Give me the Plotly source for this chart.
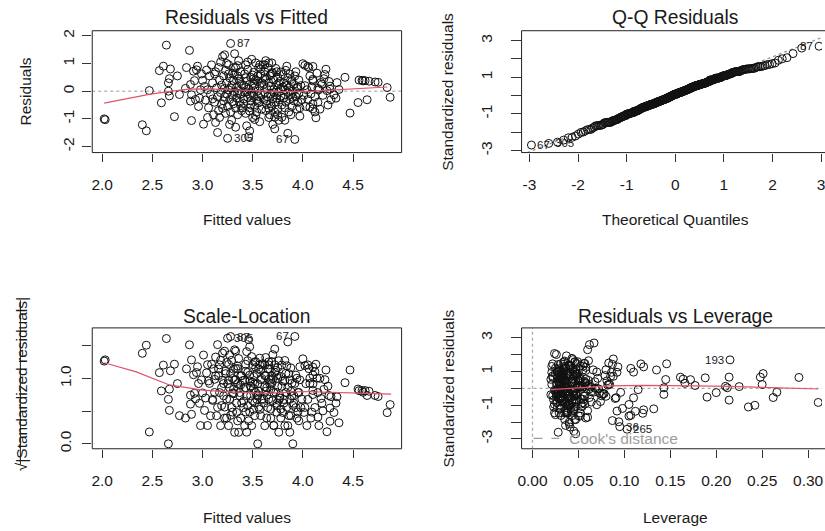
import numpy as np
from statistics import NormalDist
import plotly.graph_objects as go

W, H = 825, 531
FONT = "Liberation Sans, Arial, Helvetica, sans-serif"
INK = "#1a1a1a"
RED = "#DF536B"
GRAY = "#9E9E9E"

# ---------------- data ----------------
fitted = [
    2.02, 2.03, 2.40, 2.44, 2.47,
    2.57, 2.61, 2.64, 2.59, 2.66, 2.67, 2.66, 2.67, 2.72, 2.77, 2.68, 2.75,
    2.84, 2.87, 2.89, 2.88, 2.89, 2.88, 2.91, 2.94, 2.92, 2.95, 2.97, 2.98, 2.96, 2.99, 2.93, 2.83,
    3.01, 3.13, 3.15, 3.20, 3.02, 3.00, 3.04, 3.03, 3.05, 3.06, 3.07, 3.08, 3.09, 3.10, 3.11, 3.12,
    3.12, 3.14, 3.15, 3.16, 3.16, 3.17, 3.18, 3.18, 3.19, 3.19, 3.05, 3.13, 3.10, 3.17,
    3.22, 3.28, 3.25, 3.32, 3.21, 3.21, 3.22, 3.23, 3.23, 3.24, 3.24, 3.25, 3.26, 3.26, 3.27, 3.27,
    3.28, 3.29, 3.29, 3.30, 3.30, 3.31, 3.31, 3.32, 3.33, 3.33, 3.34, 3.34, 3.35, 3.35, 3.36, 3.36,
    3.37, 3.37, 3.38, 3.38, 3.39, 3.39, 3.28, 3.30, 3.36, 3.22, 3.24, 3.27, 3.33, 3.35, 3.38, 3.32,
    3.46, 3.44, 3.47, 3.41, 3.41, 3.42, 3.42, 3.43, 3.43, 3.44, 3.45, 3.45, 3.46, 3.47, 3.48, 3.48,
    3.49, 3.49, 3.50, 3.50, 3.51, 3.51, 3.52, 3.52, 3.53, 3.53, 3.54, 3.54, 3.55, 3.55, 3.56, 3.56,
    3.57, 3.57, 3.58, 3.58, 3.59, 3.59, 3.43, 3.47, 3.51, 3.55, 3.58, 3.45, 3.53, 3.40, 3.57, 3.48,
    3.52, 3.44, 3.56, 3.50,
    3.66, 3.69, 3.72, 3.72, 3.79, 3.78, 3.61, 3.61, 3.62, 3.62, 3.63, 3.63, 3.64, 3.64, 3.65, 3.65,
    3.66, 3.67, 3.67, 3.68, 3.68, 3.69, 3.70, 3.70, 3.71, 3.71, 3.73, 3.73, 3.74, 3.74, 3.75, 3.75,
    3.76, 3.76, 3.77, 3.77, 3.78, 3.79, 3.60, 3.64, 3.68, 3.72, 3.76, 3.63, 3.70, 3.66, 3.74, 3.78,
    3.62, 3.71, 3.69, 3.75,
    3.92, 3.85, 3.80, 3.81, 3.81, 3.82, 3.82, 3.83, 3.83, 3.84, 3.85, 3.85, 3.86, 3.86, 3.87, 3.87,
    3.88, 3.89, 3.89, 3.90, 3.91, 3.91, 3.92, 3.93, 3.94, 3.94, 3.95, 3.96, 3.96, 3.97, 3.98, 3.99,
    3.84, 3.88, 3.93, 3.97, 3.82, 3.90, 3.95, 3.87,
    4.00, 4.10, 4.05, 4.02, 4.06, 4.10, 4.10, 4.10, 4.10, 4.13, 4.18, 4.21, 4.22, 4.23, 4.27, 4.27,
    4.28, 4.01, 4.02, 4.03, 4.04, 4.05, 4.07, 4.08, 4.09, 4.12, 4.14, 4.15, 4.16, 4.17, 4.19, 4.20,
    4.24, 4.25, 4.12, 4.07, 4.15, 4.26,
    4.34, 4.42, 4.47, 4.55, 4.36, 4.31, 4.33,
    4.56, 4.59, 4.62, 4.66, 4.72, 4.75, 4.84, 4.87, 4.64, 4.60,
    3.26, 3.41, 3.55, 3.68, 3.80, 3.35, 3.62, 3.47, 3.74, 3.20, 3.88, 3.52, 3.31, 3.66, 3.43,
]

residuals = [
    -1.00, -1.03, -1.21, -1.43, 0.02,
    0.74, 0.90, 1.66, -0.42, 0.30, 0.45, 0.00, -0.17, -0.92, -0.12, 0.80, 0.55,
    0.85, 1.47, -1.06, -0.36, -0.13, 0.24, 0.72, 0.77, 0.38, 0.90, -0.25, 0.05, -0.55, 0.62, -0.30, 0.10,
    -1.19, -1.13, -1.49, 1.25, 0.17, 0.39, 0.76, -0.32, 0.05, -0.60, 0.55, -0.12, 0.95, 0.30, -0.85, -0.40,
    0.62, 0.12, -0.20, 0.85, -0.70, 0.40, -0.05, 1.05, -0.48, 0.22, -0.95, 0.70, -0.28, -0.95,
    1.31, 1.72, -1.70, 1.35, 0.55, -0.35, 0.10, -0.80, 0.75, -0.10, 0.30, -0.55, 0.95, 0.05, -0.30, 0.48,
    -0.75, 0.20, -1.05, 0.65, -0.15, 0.38, -0.45, -0.02, 0.85, -0.62, 0.15, -0.25, 0.55, -0.85, 0.02, 1.10,
    -0.40, 0.35, -0.10, 0.70, -0.70, 0.25, 0.12, -0.38, 0.45, -0.20, 1.00, -1.20, -1.30, 0.92, -0.52, 0.60,
    -1.64, -1.25, -1.43, 0.20, -0.45, 0.62, -0.05, 0.95, -0.80, 0.35, -0.22, 0.78, 0.08, -0.60, 0.50, -0.35,
    1.15, -0.05, 0.28, -0.95, 0.68, -0.18, 0.12, -0.55, 1.02, 0.40, -0.30, -0.75, 0.55, 0.00, -0.42, 0.85,
    0.18, -1.10, -0.12, 0.62, -0.65, 0.30, 0.15, -0.15, 0.45, -0.35, 0.80, 1.05, -0.88, -0.60, 0.95, -0.50,
    0.25, -0.02, -0.20, 0.58,
    1.02, 1.02, -1.36, -0.94, -0.94, 0.69, 0.25, -0.30, 0.70, -0.05, -0.70, 0.42, 0.10, -0.48, 0.85, -0.20,
    0.30, -0.85, 0.55, -0.10, 0.18, -0.55, 0.65, -0.28, 0.05, 0.40, -0.40, 0.82, -0.15, 0.22, -0.65, 0.50,
    -0.02, -1.05, 0.35, -0.32, 0.10, -0.50, 0.95, -0.35, 0.60, -0.75, 0.28, 1.10, -1.20, -0.62, 0.70, -0.18,
    0.48, -0.05, 0.67, -0.85,
    -1.74, -1.52, 0.60, -0.25, 0.30, -0.60, 0.05, 0.75, -0.40, 0.20, -0.05, 0.48, -0.75, 0.12, -0.30, 0.62,
    -0.12, 0.35, -0.55, 0.00, -0.35, 0.25, 0.55, -0.20, -0.65, 0.10, -0.40, 0.40, -0.08, -0.90, 0.20, -0.30,
    0.90, -0.85, 0.70, -0.60, -1.05, -0.22, 0.15, 0.02,
    0.99, 0.89, 0.89, 0.93, 0.85, 0.37, 0.43, -0.64, -0.46, -0.96, 0.31, 0.45, 0.60, 0.79, 0.07, 0.18,
    -0.31, -0.15, 0.20, -0.55, 0.05, -0.30, 0.55, -0.10, 0.15, -0.20, 0.65, -0.40, 0.05, -0.65, 0.25, -0.15,
    0.02, -0.50, -0.75, -0.58, 0.10, 0.35,
    0.31, 0.50, -0.79, -0.41, 0.06, -0.13, -0.25,
    0.40, 0.39, 0.38, 0.36, 0.33, 0.32, 0.13, -0.22, -0.31, 0.37,
    0.62, -0.28, 0.35, -0.45, 0.15, -0.08, 0.95, -0.72, -0.25, -0.62, 0.42, -1.02, 0.85, -0.95, 0.48,
]

leverage = [
    0.107, 0.105, 0.087, 0.095, 0.143,
    0.107, 0.118, 0.062, 0.055, 0.035, 0.048, 0.068, 0.033, 0.120, 0.045, 0.058, 0.038,
    0.042, 0.060, 0.052, 0.031, 0.064, 0.029, 0.047, 0.036, 0.071, 0.040, 0.026, 0.054, 0.043, 0.034, 0.080, 0.050,
    0.046, 0.058, 0.041, 0.037, 0.030, 0.052, 0.044, 0.028, 0.063, 0.036, 0.049, 0.025, 0.057, 0.033, 0.045, 0.039,
    0.070, 0.031, 0.047, 0.035, 0.054, 0.027, 0.042, 0.061, 0.032, 0.050, 0.038, 0.044, 0.075, 0.029,
    0.026, 0.067, 0.028, 0.024, 0.040, 0.033, 0.052, 0.045, 0.029, 0.038, 0.061, 0.027, 0.048, 0.035, 0.056, 0.031,
    0.042, 0.037, 0.050, 0.028, 0.066, 0.034, 0.043, 0.030, 0.055, 0.039, 0.026, 0.047, 0.033, 0.060, 0.036, 0.044,
    0.029, 0.052, 0.038, 0.031, 0.045, 0.057, 0.082, 0.090, 0.085, 0.077, 0.046, 0.035, 0.040, 0.028, 0.064, 0.092,
    0.045, 0.094, 0.036, 0.033, 0.048, 0.027, 0.041, 0.056, 0.030, 0.044, 0.036, 0.025, 0.052, 0.039, 0.032, 0.062,
    0.043, 0.028, 0.047, 0.035, 0.058, 0.031, 0.040, 0.026, 0.049, 0.034, 0.045, 0.037, 0.029, 0.054, 0.033, 0.041,
    0.027, 0.060, 0.038, 0.046, 0.030, 0.050, 0.084, 0.096, 0.088, 0.110, 0.093, 0.035, 0.042, 0.057, 0.031, 0.074,
    0.068, 0.072, 0.078, 0.025,
    0.034, 0.046, 0.040, 0.052, 0.037, 0.029, 0.043, 0.031, 0.055, 0.026, 0.047, 0.036, 0.060, 0.033, 0.041, 0.028,
    0.050, 0.038, 0.044, 0.030, 0.057, 0.035, 0.027, 0.048, 0.039, 0.032, 0.053, 0.036, 0.045, 0.029, 0.041, 0.034,
    0.062, 0.031, 0.043, 0.026, 0.049, 0.038, 0.083, 0.091, 0.086, 0.098, 0.081, 0.088, 0.047, 0.070, 0.066, 0.073,
    0.079, 0.115, 0.135, 0.112,
    0.047, 0.103, 0.032, 0.045, 0.028, 0.053, 0.037, 0.041, 0.030, 0.058, 0.034, 0.046, 0.027, 0.050, 0.039, 0.033,
    0.044, 0.029, 0.055, 0.036, 0.042, 0.031, 0.048, 0.026, 0.040, 0.035, 0.052, 0.030, 0.045, 0.038, 0.029, 0.057,
    0.087, 0.092, 0.080, 0.105, 0.043, 0.076, 0.083, 0.069,
    0.215, 0.040, 0.146, 0.034, 0.052, 0.030, 0.045, 0.235, 0.311, 0.038, 0.050, 0.033, 0.110, 0.121, 0.210, 0.166,
    0.190, 0.028, 0.043, 0.036, 0.055, 0.031, 0.047, 0.039, 0.062, 0.035, 0.044, 0.029, 0.052, 0.041, 0.037, 0.200,
    0.212, 0.048, 0.132, 0.242, 0.177, 0.058,
    0.172, 0.251, 0.121, 0.214, 0.225, 0.266, 0.048,
    0.161, 0.214, 0.248, 0.290, 0.164, 0.145, 0.250, 0.143, 0.262, 0.188,
    0.021, 0.022, 0.020, 0.023, 0.021, 0.024, 0.022, 0.023, 0.020, 0.024, 0.022, 0.025, 0.021, 0.024, 0.022,
]
n_coef = 10

# labelled observations (row position -> label)
resid_label_text = ["87", "305", "67"]
resid_label_rows = [64, 65, 215]
cook_label_text = ["193", "36", "265"]
cook_label_rows = [255, 3, 216]

# smoother curves
smooth_fit_x = [2.02, 2.25, 2.48, 2.70, 2.86, 3.05, 3.48, 3.80, 4.10, 4.40, 4.60, 4.84]
smooth_fit_y = [-0.43, -0.27, -0.11, 0.00, 0.07, 0.08, 0.03, -0.02, 0.00, 0.07, 0.11, 0.15]
smooth_sl_x = [2.02, 2.34, 2.67, 3.00, 3.33, 3.66, 3.99, 4.32, 4.65, 4.88]
smooth_sl_y = [1.24, 1.10, 0.90, 0.82, 0.79, 0.77, 0.80, 0.79, 0.77, 0.76]
smooth_lev_x = [0.020, 0.049, 0.060, 0.085, 0.120, 0.150, 0.176, 0.214, 0.250, 0.286, 0.311]
smooth_lev_y = [-0.08, 0.00, 0.06, 0.14, 0.17, 0.18, 0.15, 0.12, 0.06, 0.01, -0.04]

# ticks
fit_ticks = [2.0, 2.5, 3.0, 3.5, 4.0, 4.5]
fit_tick_text = ["2.0", "2.5", "3.0", "3.5", "4.0", "4.5"]
res_ticks = [-2, -1, 0, 1, 2]
res_tick_text = ["-2", "-1", "0", "1", "2"]
std_ticks = [-3, -2, -1, 0, 1, 2, 3]
std_tick_text = ["-3", "", "-1", "", "1", "", "3"]
qq_ticks = [-3, -2, -1, 0, 1, 2, 3]
qq_tick_text = ["-3", "-2", "-1", "0", "1", "2", "3"]
sl_ticks = [0.0, 0.5, 1.0, 1.5]
sl_tick_text = ["0.0", "", "1.0", ""]
lev_ticks = [0.0, 0.05, 0.10, 0.15, 0.20, 0.25, 0.30]
lev_tick_text = ["0.00", "0.05", "0.10", "0.15", "0.20", "0.25", "0.30"]

# ---------------- derived quantities (as plot.lm does) ----------------
f = np.array(fitted)
r = np.array(residuals)
h = np.array(leverage)
if not (len(f) == len(r) == len(h)):
    raise ValueError(f"lengths differ: {len(f)} {len(r)} {len(h)}")
n = len(r)
sigma = np.sqrt(np.sum(r ** 2) / (n - n_coef))
rs = r / (sigma * np.sqrt(1 - h))
sqrt_abs_rs = np.sqrt(np.abs(rs))
nd = NormalDist()
order = np.argsort(rs)
theo_sorted = np.array([nd.inv_cdf((i + 0.5) / n) for i in range(n)])
theo = np.empty(n)
theo[order] = theo_sorted
q1, q3 = np.quantile(rs, [0.25, 0.75])
z1, z3 = nd.inv_cdf(0.25), nd.inv_cdf(0.75)
qq_slope = (q3 - q1) / (z3 - z1)
qq_int = q1 - qq_slope * z1

# ---------------- layout geometry (pixels) ----------------
def px(x):
    return x / W

def py(y):
    return 1 - y / H

boxes = {
    1: (89, 401, 29, 152),
    2: (522, 825, 29, 152),
    3: (89, 401, 329, 451),
    4: (522, 825, 329, 451),
}
ranges = {
    1: ([1.901, 4.984], [-2.214, 2.179]),
    2: ([-3.163, 3.02], [-3.108, 3.54]),
    3: ([1.901, 4.984], [-0.076, 1.773]),
    4: ([-0.01187, 0.3151], [-3.588, 3.588]),
}

fig = go.Figure()
marker = dict(symbol="circle-open", size=8, color="#111111", line=dict(width=1))

def ax(k):
    return "" if k == 1 else str(k)

def add_points(k, x, y):
    fig.add_trace(go.Scatter(x=x, y=y, mode="markers", marker=marker,
                             xaxis=f"x{ax(k)}", yaxis=f"y{ax(k)}",
                             hoverinfo="skip", showlegend=False))

def add_line(k, x, y, color, dash="solid", width=1.2):
    fig.add_trace(go.Scatter(x=x, y=y, mode="lines", line=dict(color=color, dash=dash, width=width),
                             xaxis=f"x{ax(k)}", yaxis=f"y{ax(k)}",
                             hoverinfo="skip", showlegend=False))

# Panel 1: Residuals vs Fitted
add_line(1, ranges[1][0], [0, 0], "#BBBBBB", "dot", 1.5)
add_points(1, f, r)
add_line(1, smooth_fit_x, smooth_fit_y, RED)

# Panel 2: Q-Q
qx = np.array(ranges[2][0])
add_line(2, qx, qq_int + qq_slope * qx, "#999999", "dot", 1.3)
add_points(2, theo_sorted, rs[order])

# Panel 3: Scale-Location
add_points(3, f, sqrt_abs_rs)
add_line(3, smooth_sl_x, smooth_sl_y, RED)

# Panel 4: Residuals vs Leverage
add_line(4, ranges[4][0], [0, 0], "#AAAAAA", "dot", 1.3)
add_line(4, [0, 0], ranges[4][1], "#AAAAAA", "dot", 1.3)
add_points(4, h, rs)
add_line(4, smooth_lev_x, smooth_lev_y, RED)

tickfont = dict(family=FONT, size=15.5, color=INK)

def xaxis(k, vals, text):
    x0, x1, y0, y1 = boxes[k]
    return dict(domain=[px(x0), min(1.0, px(x1))], range=ranges[k][0],
                anchor=f"y{ax(k)}", tickmode="array", tickvals=vals, ticktext=text,
                ticks="outside", ticklen=8, tickwidth=1, tickcolor="#333333",
                showgrid=False, zeroline=False, showline=False, tickfont=tickfont,
                ticklabelstandoff=10, ticklabeloverflow="allow", fixedrange=True)

def yaxis(k, vals, text, ticklen, standoff):
    x0, x1, y0, y1 = boxes[k]
    return dict(domain=[py(y1), py(y0)], range=ranges[k][1],
                anchor=f"x{ax(k)}", tickmode="array", tickvals=vals, ticktext=text,
                ticks="outside", ticklen=ticklen, tickwidth=1, tickcolor="#333333", tickangle=-90,
                showgrid=False, zeroline=False, showline=False, tickfont=tickfont,
                ticklabelstandoff=standoff, ticklabeloverflow="allow", fixedrange=True)

shapes = []
for k, (x0, x1, y0, y1) in boxes.items():
    shapes.append(dict(type="rect", xref="paper", yref="paper",
                       x0=px(x0), x1=px(x1 + 20 if x1 >= W else x1), y0=py(y1), y1=py(y0),
                       line=dict(color="#222222", width=1), layer="above"))
# Cook's distance legend key and radical vinculum on the scale-location label
shapes.append(dict(type="line", xref="paper", yref="paper", x0=px(534), x1=px(560),
                   y0=py(440.5), y1=py(440.5), line=dict(color=GRAY, width=1.3, dash="dash")))
shapes.append(dict(type="line", xref="paper", yref="paper", x0=px(16.5), x1=px(16.5),
                   y0=py(301), y1=py(467), line=dict(color=INK, width=1)))

ann = []
def text(x, y, s, size=15.5, angle=0, color=INK, xanchor="center"):
    ann.append(dict(x=px(x), y=py(y), xref="paper", yref="paper", text=s, showarrow=False,
                    textangle=angle, xanchor=xanchor, yanchor="middle",
                    font=dict(family=FONT, size=size, color=color)))

text(245, 16, "Residuals vs Fitted", 19.3)
text(677, 16, "Q-Q Residuals", 19.3)
text(245, 317.5, "Scale-Location", 19.3)
text(677, 317.5, "Residuals vs Leverage", 19.3)
text(245, 220, "Fitted values")
text(677, 220, "Theoretical Quantiles")
text(245, 520, "Fitted values")
text(677, 520, "Leverage")
text(22, 90.5, "Residuals", angle=-90)
text(447, 90.5, "Standardized residuals", angle=-90)
text(18, 386, "√|Standardized residuals|", angle=-90)
text(448, 390, "Standardized residuals", angle=-90)
text(568, 440.5, "Cook's distance", color=GRAY, xanchor="left")

def id_labels(k, xs, ys, rows, labels):
    mid = (np.min(xs) + np.max(xs)) / 2
    for row, lab in zip(rows, labels):
        right = xs[row] <= mid
        ann.append(dict(x=xs[row], y=ys[row], xref=f"x{ax(k)}", yref=f"y{ax(k)}",
                        text=lab, showarrow=False, xanchor="left" if right else "right",
                        xshift=4 if right else -4, yanchor="middle",
                        font=dict(family=FONT, size=11.5, color=INK)))

id_labels(1, f, r, resid_label_rows, resid_label_text)
id_labels(2, theo, rs, resid_label_rows, resid_label_text)
id_labels(3, f, sqrt_abs_rs, resid_label_rows, resid_label_text)
id_labels(4, h, rs, cook_label_rows, cook_label_text)

fig.update_layout(
    width=W, height=H, margin=dict(l=0, r=0, t=0, b=0),
    paper_bgcolor="white", plot_bgcolor="white", showlegend=False,
    xaxis=xaxis(1, fit_ticks, fit_tick_text),
    yaxis=yaxis(1, res_ticks, res_tick_text, 9, 2),
    xaxis2=xaxis(2, qq_ticks, qq_tick_text),
    yaxis2=yaxis(2, std_ticks, std_tick_text, 10, 12),
    xaxis3=xaxis(3, fit_ticks, fit_tick_text),
    yaxis3=yaxis(3, sl_ticks, sl_tick_text, 9, 5),
    xaxis4=xaxis(4, lev_ticks, lev_tick_text),
    yaxis4=yaxis(4, std_ticks, std_tick_text, 10, 12),
    shapes=shapes, annotations=ann,
)

fig.write_html(
    "out.html",
    config={"displayModeBar": False},
    post_script="document.body.style.margin='0px';document.body.style.overflow='hidden';",
)
